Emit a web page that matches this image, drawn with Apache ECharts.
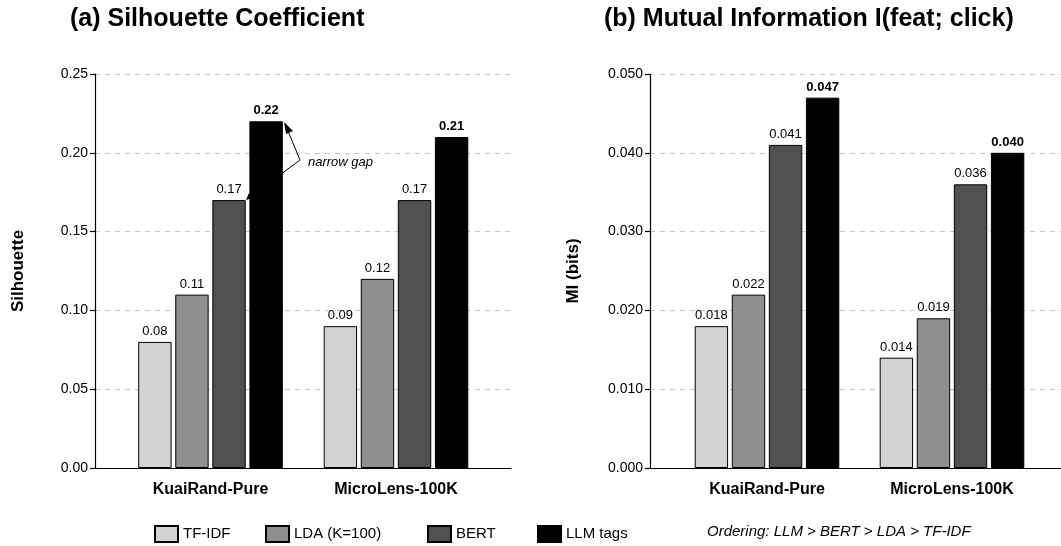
<!DOCTYPE html>
<html>
<head>
<meta charset="utf-8">
<script src="https://cdn.jsdelivr.net/npm/echarts@6/dist/echarts.min.js"></script>
<style>html,body{margin:0;padding:0;background:#fff}#c{width:1061px;height:546px}</style>
</head>
<body>
<div id="c"></div>
<script>
const categories = ['KuaiRand-Pure', 'MicroLens-100K'];
const methods = ['TF-IDF', 'LDA (K=100)', 'BERT', 'LLM tags'];
const silhouette = {
  tfidf: [0.08, 0.09],
  lda: [0.11, 0.12],
  bert: [0.17, 0.17],
  llm: [0.22, 0.21]
};
const mutualInfo = {
  tfidf: [0.018, 0.014],
  lda: [0.022, 0.019],
  bert: [0.041, 0.036],
  llm: [0.047, 0.040]
};
const silTicks = [0, 0.05, 0.10, 0.15, 0.20, 0.25];
const miTicks = [0, 0.010, 0.020, 0.030, 0.040, 0.050];

const colors = ['#d3d3d3', '#8f8f8f', '#505050', '#000000'];
const FONT = 'Liberation Sans, Arial, sans-serif';
const keys = ['tfidf', 'lda', 'bert', 'llm'];

const chart = echarts.init(document.getElementById('c'), null, {renderer: 'canvas'});

function frameAxes(gi, ticks, dec, name) {
  return {
    x: {type: 'value', gridIndex: gi, min: 0, max: 1, show: true,
        axisLine: {show: true, onZero: false, lineStyle: {color: '#000', width: 1.2}},
        axisTick: {show: false}, axisLabel: {show: false}, splitLine: {show: false}},
    y: {type: 'value', gridIndex: gi, min: ticks[0], max: ticks[ticks.length - 1],
        interval: ticks[1] - ticks[0],
        axisLine: {show: true, lineStyle: {color: '#000', width: 1.2}},
        axisTick: {show: true, length: 5, lineStyle: {color: '#000', width: 1.2}},
        axisLabel: {fontFamily: FONT, fontSize: 14, color: '#000', margin: 7,
                    formatter: v => v.toFixed(dec)},
        splitLine: {show: true, lineStyle: {color: '#c8c8c8', type: [5, 5], width: 1}},
        name: name, nameLocation: 'middle',
        nameTextStyle: {fontFamily: FONT, fontSize: 17, fontWeight: 'bold', color: '#000'}}
  };
}

const fa = frameAxes(0, silTicks, 2, 'Silhouette');
const fb = frameAxes(2, miTicks, 3, 'MI (bits)');
fa.y.nameGap = 68;
fb.y.nameGap = 68;

function barAxes(gi, ticks) {
  return {
    x: {type: 'category', gridIndex: gi, data: categories,
        axisLine: {show: false}, axisTick: {show: false},
        axisLabel: {fontFamily: FONT, fontSize: 16, fontWeight: 'bold', color: '#000', margin: 14}},
    y: {type: 'value', gridIndex: gi, min: ticks[0], max: ticks[ticks.length - 1], show: false,
        splitLine: {show: false}}
  };
}
const ba = barAxes(1, silTicks);
const bb = barAxes(3, miTicks);

const series = [];
function addSeries(src, axisIdx, dec) {
  keys.forEach((k, i) => {
    series.push({
      type: 'bar', name: methods[i], xAxisIndex: axisIdx, yAxisIndex: axisIdx,
      data: src[k], barWidth: 33.4, barGap: '11%', z: 3,
      itemStyle: {color: colors[i], borderColor: '#000', borderWidth: 1},
      label: {show: true, position: 'top', distance: 4, fontFamily: FONT,
              fontSize: 13, color: '#000', fontWeight: i === 3 ? 'bold' : 'normal',
              formatter: p => p.value.toFixed(dec)}
    });
  });
}
addSeries(silhouette, 1, 2);
addSeries(mutualInfo, 3, 3);

const legendX = [149, 260, 422, 532];
const legends = methods.map((m, i) => ({
  data: [m], left: legendX[i], top: 520, itemWidth: 23, itemHeight: 16, itemGap: 0,
  textStyle: {fontFamily: FONT, fontSize: 15, color: '#000'},
  icon: 'rect'
}));

const option = {
  animation: false,
  backgroundColor: '#fff',
  grid: [
    {left: 95, top: 74, width: 416, height: 394},
    {left: 117.75, top: 74, width: 371, height: 394},
    {left: 650, top: 74, width: 416, height: 394},
    {left: 674.5, top: 74, width: 370, height: 394}
  ],
  xAxis: [fa.x, ba.x, fb.x, bb.x],
  yAxis: [fa.y, ba.y, fb.y, bb.y],
  legend: legends,
  series: series,
  graphic: [
    {type: 'text', left: 70, top: 7, z: 10,
     style: {text: '(a) Silhouette Coefficient', font: 'bold 25px ' + FONT, fill: '#000'}},
    {type: 'text', left: 604, top: 7, z: 10,
     style: {text: '(b) Mutual Information I(feat; click)', font: 'bold 25px ' + FONT, fill: '#000'}},
    {type: 'text', left: 707, top: 524, z: 10,
     style: {text: 'Ordering: LLM > BERT > LDA > TF-IDF', font: 'italic 15px ' + FONT, fill: '#000'}},
    {type: 'text', left: 308, top: 156, z: 10,
     style: {text: 'narrow gap', font: 'italic 13px ' + FONT, fill: '#000'}},
    {type: 'line', z: 1, shape: {x1: 300, y1: 160, x2: 288, y2: 131}, style: {stroke: '#000', lineWidth: 1}},
    {type: 'polygon', z: 10, shape: {points: [[284, 122], [293, 131], [286, 134]]}, style: {fill: '#000'}},
    {type: 'line', z: 1, shape: {x1: 300, y1: 160, x2: 250, y2: 197}, style: {stroke: '#000', lineWidth: 1}},
    {type: 'polygon', z: 1, shape: {points: [[246, 200], [249, 193], [253, 198]]}, style: {fill: '#000'}}
  ]
};
chart.setOption(option);
</script>
</body>
</html>
